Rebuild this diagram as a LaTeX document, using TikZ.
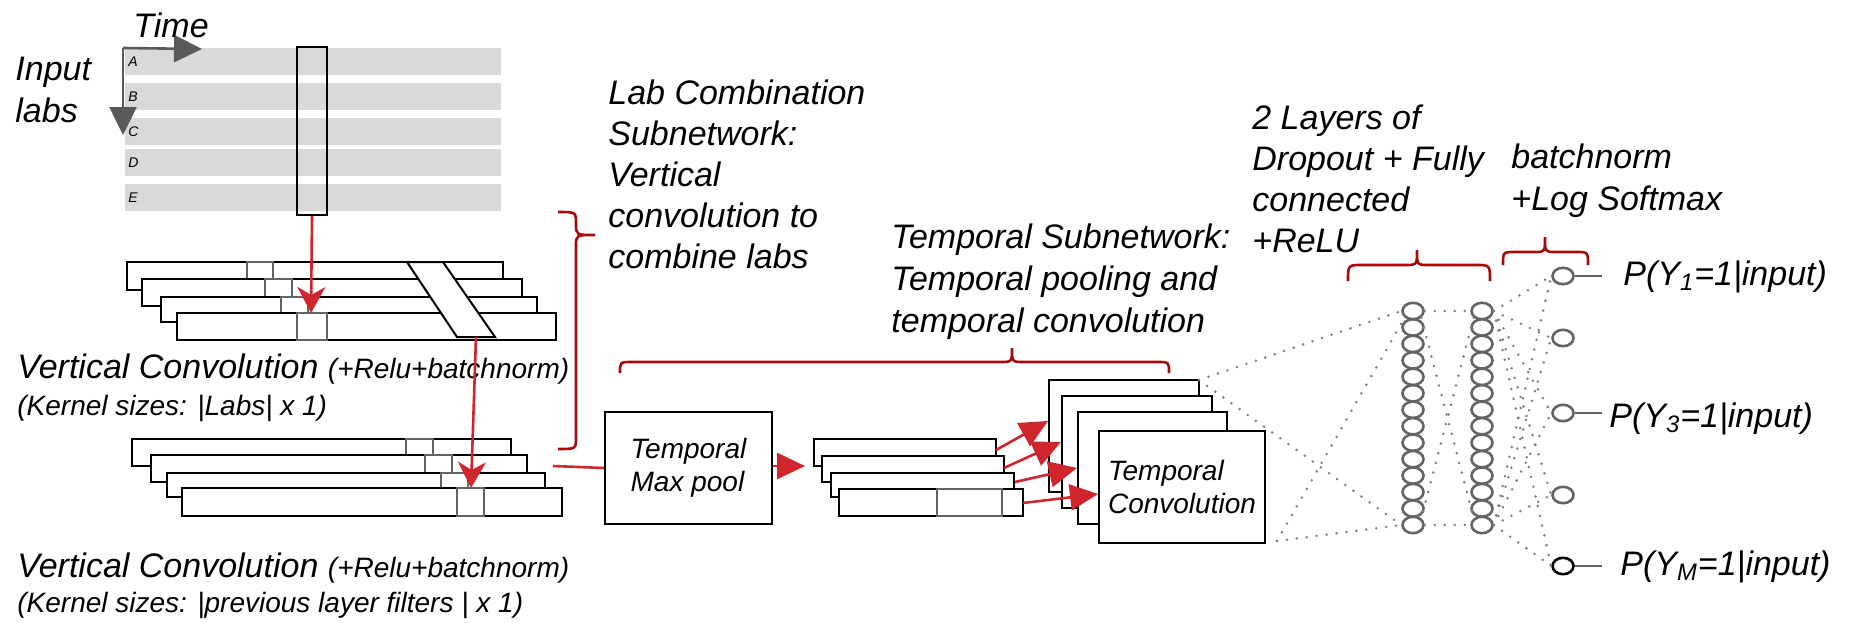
\documentclass[tikz,border=0pt]{standalone}
\usepackage{fontspec}
\setmainfont{Liberation Sans}
\usetikzlibrary{arrows.meta,shapes.geometric,calc}

\definecolor{arrowred}{RGB}{208,37,45}
\definecolor{bracered}{RGB}{165,10,10}
\definecolor{bandgray}{RGB}{217,217,217}
\definecolor{axisgray}{RGB}{89,89,89}
\definecolor{kerngray}{RGB}{100,100,100}
\definecolor{dotgray}{RGB}{125,125,125}

\tikzset{
  big/.style={font=\fontsize{17}{20.5}\selectfont\itshape, inner sep=0pt, align=left},
  smalltxt/.style={font=\fontsize{14}{17}\selectfont\itshape, inner sep=0pt, align=left},
  fmap/.style={draw=black, fill=white, line width=1pt},
  kern/.style={draw=kerngray, line width=1pt},
  band/.style={fill=bandgray},
  axisarrow/.style={draw=axisgray, line width=1.3pt, -{Triangle[length=14pt,width=13.5pt]}},
  redarrow/.style={draw=arrowred, line width=1.3pt, -{Stealth[length=13pt,width=14pt,inset=4pt]}},
  redtri/.style={draw=arrowred, line width=1.3pt, -{Triangle[length=14pt,width=13pt]}},
  redline/.style={draw=arrowred, line width=1.3pt},
  brace/.style={draw=bracered, line width=1.3pt},
  box/.style={draw=black, fill=white, line width=1pt, inner sep=0pt,
              font=\fontsize{14}{16.5}\selectfont\itshape, align=left},
  neuron/.style={ellipse, draw=kerngray, line width=1.3pt, fill=white,
                 minimum width=10.5pt, minimum height=8.2pt, inner sep=0pt},
  dots/.style={draw=dotgray, line width=1.4pt, line cap=round, dash pattern=on 0pt off 5pt},
  outline/.style={draw=kerngray, line width=1pt},
}

\begin{document}
\begin{tikzpicture}[x=0.5pt,y=-0.5pt]
\useasboundingbox (0,0) rectangle (1849,622);

% ---------- input lab rows ----------
\foreach \t/\l in {48/A,83/B,118/C,149/D,184/E}{
  \fill[band] (125,\t) rectangle (501,\t+27);
  \node[font=\fontsize{7}{8}\selectfont\itshape, anchor=west, inner sep=0pt]
    (lab\l) at (128,\t+14) {\l};
}
\coordinate (origin) at (123,48);
\coordinate (timeend) at (202,49);
\coordinate (labsend) at (123,135);
\draw[axisarrow] (origin) -- (timeend);
\draw[axisarrow] (origin) -- (labsend);
\node[big, anchor=base west] (time) at (133,37) {Time};
% multi-line labels are anchored at the baseline of their last line
\node[big, font=\fontsize{17}{21}\selectfont\itshape, anchor=base west] (inputlabs) at (15,122) {Input\\labs};

% vertical kernel window over the input
\node[draw=black, line width=1.2pt, minimum width=15pt, minimum height=84pt, inner sep=0pt]
  (window) at (312,131) {};

% ---------- first vertical convolution stack ----------
\draw[fmap] (127,262) rectangle (503,290);
\draw[kern] (247,262) rectangle (273,290);
\draw[fmap] (142,279) rectangle (522,306);
\draw[kern] (265,279) rectangle (292,306);
\draw[fmap] (161,297) rectangle (537,322);
\draw[kern] (281,297) rectangle (308,322);
\draw[fmap] (177,313) rectangle (556,340);
\draw[kern] (297,313) rectangle (327,340);
\coordinate (kA) at (311,313);
\draw[fmap] (407,262) -- (443,262) -- (495,337) -- (457,337) -- cycle;
\coordinate (slant) at (476,337);
\draw[redarrow] (window.south) -- (kA);

\node[anchor=base west, inner sep=0pt] (vc1) at (17,378)
  {\fontsize{17}{20}\selectfont\itshape Vertical Convolution
   {\fontsize{14}{17}\selectfont (+Relu+batchnorm)}};
\node[smalltxt, anchor=base west] (ks1) at (17,415) {(Kernel sizes: |Labs| x 1)};

% ---------- second vertical convolution stack ----------
\draw[fmap] (132,439) rectangle (511,466);
\draw[kern] (406,439) rectangle (433,466);
\draw[fmap] (151,455) rectangle (527,482);
\draw[kern] (425,455) rectangle (452,482);
\draw[fmap] (167,473) rectangle (545,497);
\draw[kern] (441,473) rectangle (468,497);
\draw[fmap] (182,488) rectangle (562,516);
\draw[kern] (457,488) rectangle (484,516);
\coordinate (kB) at (471,488);
\draw[redarrow] (slant) -- (kB);

\node[anchor=base west, inner sep=0pt] (vc2) at (17,577)
  {\fontsize{17}{20}\selectfont\itshape Vertical Convolution
   {\fontsize{14}{17}\selectfont (+Relu+batchnorm)}};
\node[smalltxt, anchor=base west] (ks2) at (17,612)
  {(Kernel sizes: |previous layer filters | x 1)};

% brace of the lab combination subnetwork
\draw[brace] (558,212) .. controls (576,212) .. (576,224)
  .. controls (576,235) .. (595,235)
  .. controls (576,235) .. (576,246) -- (576,437)
  .. controls (576,449) .. (558,449);
\node[big, font=\fontsize{17}{20.4}\selectfont\itshape, anchor=base west] (labcomb) at (608,268)
  {Lab Combination\\Subnetwork:\\Vertical\\convolution to\\combine labs};

% ---------- temporal subnetwork ----------
\coordinate (stackBout) at (553,466);
\node[box, minimum width=83.5pt, minimum height=56pt] (maxpool) at (688.5,468)
  {Temporal\\Max pool};
\draw[redline] (stackBout) -- (maxpool.west);
\coordinate (stackCin) at (805,466);
\draw[redtri] (maxpool.east |- stackCin) -- (stackCin);

\draw[fmap] (814,439) rectangle (996,466);
\draw[fmap] (822,456) rectangle (1004,482);
\draw[fmap] (831,473) rectangle (1014,497);
\draw[fmap] (839,489) rectangle (1023,516);
\draw[kern] (937,489) rectangle (1002,516);
\coordinate (c1) at (996,450);
\coordinate (c2) at (1004,468);
\coordinate (c3) at (1015,482);
\coordinate (c4) at (1023,503);

\node[box, minimum width=75pt, minimum height=56pt] (conv1) at (1124,436) {};
\node[box, minimum width=75pt, minimum height=56pt] (conv2) at (1137,452) {};
\node[box, minimum width=74.5pt, minimum height=56pt] (conv3) at (1152.5,468) {};
\node[box, minimum width=83pt, minimum height=56pt] (conv4) at (1182,487)
  {\fontsize{14}{17}\selectfont Temporal\\Convolution};
\draw[redtri] (c1) -- (conv1.west |- 0,421);
\draw[redtri] (c2) -- (conv2.west |- 0,442);
\draw[redtri] (c3) -- (conv3.west |- 0,468);
\draw[redtri] (c4) -- (conv4.west |- 0,494);

\draw[brace] (620,373) .. controls (620,362) .. (632,362) -- (1000,362)
  .. controls (1012,362) .. (1012,348)
  .. controls (1012,362) .. (1024,362) -- (1157,362)
  .. controls (1169,362) .. (1169,373);
\node[big, font=\fontsize{17}{21}\selectfont\itshape, anchor=base west] (temporal) at (891,332)
  {Temporal Subnetwork:\\Temporal pooling and\\temporal convolution};

% ---------- fully connected layers ----------
\foreach \i in {1,...,14}{
  \node[neuron] (h\i) at (1413,{311+(\i-1)*16.46}) {};
  \node[neuron] (g\i) at (1482,{311+(\i-1)*16.46}) {};
}
\coordinate (convtop) at (1199,380);
\coordinate (convbot) at (1277,541);
\draw[dots] (convtop) -- (h1.west);
\draw[dots] (convtop) -- (h14.west);
\draw[dots] (convbot) -- (h1.south west);
\draw[dots] (convbot) -- (h14.west);
\draw[dots] (h1.east) -- (g1.west);
\draw[dots] (h14.east) -- (g14.west);
\draw[dots] (h1.south east) -- (g14.north west);
\draw[dots] (g1.south west) -- (h14.north east);

% ---------- output layer ----------
\foreach \k/\y in {1/276,2/338,3/413,4/495}{
  \node[neuron] (o\k) at (1563,\y) {};
}
\node[neuron, draw=black] (o5) at (1563,566) {};
\foreach \k in {1,...,5}{
  \draw[dots] (g1.east) -- (o\k.west);
  \draw[dots] (g14.east) -- (o\k.west);
}
\coordinate (p1) at (1602,276);
\coordinate (p3) at (1602,413);
\coordinate (p5) at (1602,566);
\draw[outline] (o1.east) -- (p1);
\draw[outline] (o3.east) -- (p3);
\draw[outline] (o5.east) -- (p5);
\node[big, anchor=base west] (py1) at (1623,285) {P(Y\textsubscript{1}=1|input)};
\node[big, anchor=base west] (py3) at (1609,427) {P(Y\textsubscript{3}=1|input)};
\node[big, anchor=base west] (pym) at (1620,575) {P(Y\textsubscript{M}=1|input)};

% braces and labels of the dense part
\draw[brace] (1348,281) .. controls (1348,265) .. (1362,265) -- (1405,265)
  .. controls (1417,265) .. (1417,250)
  .. controls (1417,265) .. (1429,265) -- (1476,265)
  .. controls (1490,265) .. (1490,281);
\draw[brace] (1503,265) .. controls (1503,252) .. (1515,252) -- (1535,252)
  .. controls (1545,252) .. (1545,237)
  .. controls (1545,252) .. (1555,252) -- (1576,252)
  .. controls (1588,252) .. (1588,265);
\node[big, anchor=base west] (fc) at (1252,252)
  {2 Layers of\\Dropout + Fully\\connected\\+ReLU};
\node[big, font=\fontsize{17}{21}\selectfont\itshape, anchor=base west] (softmax) at (1511,210) {batchnorm\\+Log Softmax};
\end{tikzpicture}
\end{document}
